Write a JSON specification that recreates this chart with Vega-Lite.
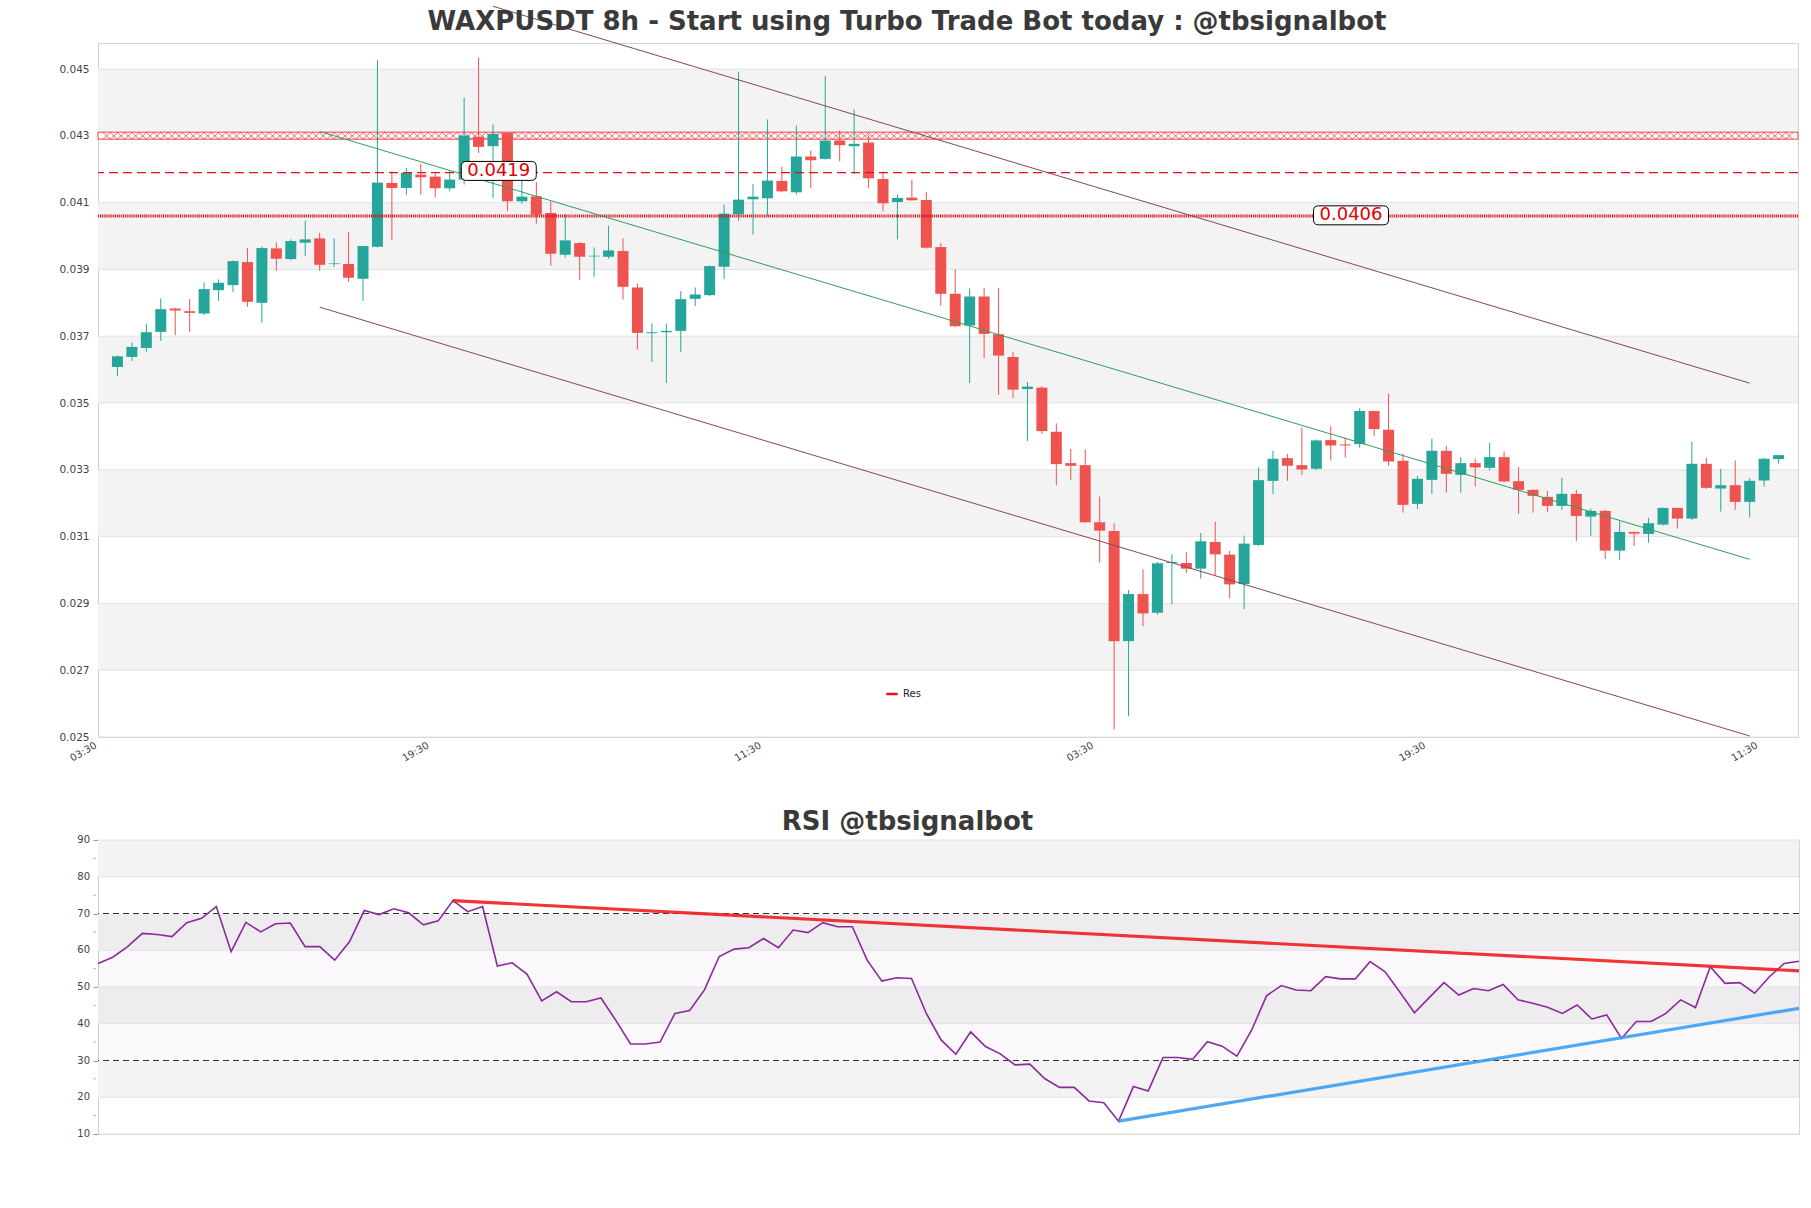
{
  "$schema": "https://vega.github.io/schema/vega-lite/v6.json",
  "background": "white",
  "padding": {"left": 58, "top": 3, "right": 10, "bottom": 10},
  "spacing": 44,
  "config": {
    "font": "DejaVu Sans",
    "view": {"stroke": "#d4d4d4", "strokeWidth": 1},
    "axis": {"labelFont": "DejaVu Sans", "labelColor": "#444444", "domainColor": "#cfcfcf", "labelOverlap": false, "labelSeparation": 0},
    "title": {"font": "DejaVu Sans"}
  },
  "datasets": {
    "candles": [
      {"j":0,"o":0.03608,"h":0.03642,"l":0.0358,"c":0.0364},
      {"j":1,"o":0.03638,"h":0.03681,"l":0.03626,"c":0.03668},
      {"j":2,"o":0.03665,"h":0.03738,"l":0.03653,"c":0.03712},
      {"j":3,"o":0.03713,"h":0.03813,"l":0.03686,"c":0.03781},
      {"j":4,"o":0.03783,"h":0.03785,"l":0.03703,"c":0.03777},
      {"j":5,"o":0.03775,"h":0.03811,"l":0.03713,"c":0.0377},
      {"j":6,"o":0.03768,"h":0.03861,"l":0.03763,"c":0.03841},
      {"j":7,"o":0.03838,"h":0.0387,"l":0.03806,"c":0.0386},
      {"j":8,"o":0.03853,"h":0.03927,"l":0.03833,"c":0.03925},
      {"j":9,"o":0.03922,"h":0.03964,"l":0.03788,"c":0.03803},
      {"j":10,"o":0.038,"h":0.03968,"l":0.0374,"c":0.03964},
      {"j":11,"o":0.03963,"h":0.03981,"l":0.03896,"c":0.03932},
      {"j":12,"o":0.03931,"h":0.0399,"l":0.03928,"c":0.03985},
      {"j":13,"o":0.0398,"h":0.04046,"l":0.03941,"c":0.0399},
      {"j":14,"o":0.03993,"h":0.0401,"l":0.03896,"c":0.03914},
      {"j":15,"o":0.03916,"h":0.03993,"l":0.03908,"c":0.03918},
      {"j":16,"o":0.03916,"h":0.04012,"l":0.03863,"c":0.03875},
      {"j":17,"o":0.03872,"h":0.0397,"l":0.03806,"c":0.0397},
      {"j":18,"o":0.03968,"h":0.04526,"l":0.03966,"c":0.0416},
      {"j":19,"o":0.04159,"h":0.04194,"l":0.03988,"c":0.04144},
      {"j":20,"o":0.04144,"h":0.04204,"l":0.04124,"c":0.04189},
      {"j":21,"o":0.04184,"h":0.04216,"l":0.04124,"c":0.04176},
      {"j":22,"o":0.04178,"h":0.04187,"l":0.04116,"c":0.04143},
      {"j":23,"o":0.04143,"h":0.04194,"l":0.04134,"c":0.04169},
      {"j":24,"o":0.04169,"h":0.04414,"l":0.04154,"c":0.04301},
      {"j":25,"o":0.04297,"h":0.04534,"l":0.04249,"c":0.04267},
      {"j":26,"o":0.04269,"h":0.04334,"l":0.04114,"c":0.04306},
      {"j":27,"o":0.04309,"h":0.0431,"l":0.04074,"c":0.04104},
      {"j":28,"o":0.04104,"h":0.04169,"l":0.04097,"c":0.04118},
      {"j":29,"o":0.04119,"h":0.04162,"l":0.04037,"c":0.04064},
      {"j":30,"o":0.04069,"h":0.04104,"l":0.03911,"c":0.03947},
      {"j":31,"o":0.03944,"h":0.04066,"l":0.03936,"c":0.03987},
      {"j":32,"o":0.03979,"h":0.03982,"l":0.03869,"c":0.03938},
      {"j":33,"o":0.03939,"h":0.03966,"l":0.03878,"c":0.03941},
      {"j":34,"o":0.03938,"h":0.04031,"l":0.03932,"c":0.03957},
      {"j":35,"o":0.03955,"h":0.03993,"l":0.0381,"c":0.03848},
      {"j":36,"o":0.03846,"h":0.03858,"l":0.0366,"c":0.0371},
      {"j":37,"o":0.03709,"h":0.03738,"l":0.03623,"c":0.03712},
      {"j":38,"o":0.03712,"h":0.03738,"l":0.0356,"c":0.03716},
      {"j":39,"o":0.03716,"h":0.03835,"l":0.03653,"c":0.03811},
      {"j":40,"o":0.03812,"h":0.03846,"l":0.0379,"c":0.03825},
      {"j":41,"o":0.03823,"h":0.03912,"l":0.0382,"c":0.0391},
      {"j":42,"o":0.03908,"h":0.04094,"l":0.03871,"c":0.04067},
      {"j":43,"o":0.04065,"h":0.04492,"l":0.04046,"c":0.04109},
      {"j":44,"o":0.0411,"h":0.04156,"l":0.04004,"c":0.04118},
      {"j":45,"o":0.04113,"h":0.04349,"l":0.04061,"c":0.04166},
      {"j":46,"o":0.04165,"h":0.04207,"l":0.04132,"c":0.04134},
      {"j":47,"o":0.04131,"h":0.04331,"l":0.04124,"c":0.04238},
      {"j":48,"o":0.04238,"h":0.04256,"l":0.04143,"c":0.04227},
      {"j":49,"o":0.04231,"h":0.04479,"l":0.04229,"c":0.04286},
      {"j":50,"o":0.04286,"h":0.04316,"l":0.04224,"c":0.04272},
      {"j":51,"o":0.04269,"h":0.04379,"l":0.04186,"c":0.04276},
      {"j":52,"o":0.0428,"h":0.04304,"l":0.04144,"c":0.04173},
      {"j":53,"o":0.04171,"h":0.04194,"l":0.04074,"c":0.04098},
      {"j":54,"o":0.04102,"h":0.04124,"l":0.0399,"c":0.04114},
      {"j":55,"o":0.04115,"h":0.04169,"l":0.04106,"c":0.04107},
      {"j":56,"o":0.04108,"h":0.04132,"l":0.03962,"c":0.03965},
      {"j":57,"o":0.03967,"h":0.03979,"l":0.03791,"c":0.03827},
      {"j":58,"o":0.03827,"h":0.03901,"l":0.03728,"c":0.0373},
      {"j":59,"o":0.03732,"h":0.03843,"l":0.0356,"c":0.03819},
      {"j":60,"o":0.03819,"h":0.03845,"l":0.03634,"c":0.03707},
      {"j":61,"o":0.03706,"h":0.03845,"l":0.03524,"c":0.03642},
      {"j":62,"o":0.03638,"h":0.03653,"l":0.03515,"c":0.0354},
      {"j":63,"o":0.03542,"h":0.03563,"l":0.03386,"c":0.03549},
      {"j":64,"o":0.03546,"h":0.03551,"l":0.03408,"c":0.03416},
      {"j":65,"o":0.03414,"h":0.03439,"l":0.03254,"c":0.03317},
      {"j":66,"o":0.0332,"h":0.03363,"l":0.0327,"c":0.03312},
      {"j":67,"o":0.03314,"h":0.03361,"l":0.03141,"c":0.03143},
      {"j":68,"o":0.03143,"h":0.0322,"l":0.03022,"c":0.03118},
      {"j":69,"o":0.03117,"h":0.0314,"l":0.02522,"c":0.02787},
      {"j":70,"o":0.02787,"h":0.0294,"l":0.02562,"c":0.02928},
      {"j":71,"o":0.02928,"h":0.03002,"l":0.02832,"c":0.0287},
      {"j":72,"o":0.02872,"h":0.03024,"l":0.02866,"c":0.0302},
      {"j":73,"o":0.03021,"h":0.03047,"l":0.02897,"c":0.03024},
      {"j":74,"o":0.03021,"h":0.03053,"l":0.02991,"c":0.03004},
      {"j":75,"o":0.03004,"h":0.03111,"l":0.02974,"c":0.03086},
      {"j":76,"o":0.03084,"h":0.03145,"l":0.02985,"c":0.03047},
      {"j":77,"o":0.03046,"h":0.03057,"l":0.02915,"c":0.02957},
      {"j":78,"o":0.02958,"h":0.03103,"l":0.02883,"c":0.03079},
      {"j":79,"o":0.03075,"h":0.03307,"l":0.03072,"c":0.03269},
      {"j":80,"o":0.03267,"h":0.03357,"l":0.03228,"c":0.03333},
      {"j":81,"o":0.03335,"h":0.03348,"l":0.03267,"c":0.03312},
      {"j":82,"o":0.03314,"h":0.03427,"l":0.03284,"c":0.03301},
      {"j":83,"o":0.03303,"h":0.03391,"l":0.03299,"c":0.03388},
      {"j":84,"o":0.03389,"h":0.03431,"l":0.03328,"c":0.03373},
      {"j":85,"o":0.03376,"h":0.03397,"l":0.03337,"c":0.03373},
      {"j":86,"o":0.03377,"h":0.03484,"l":0.03366,"c":0.03476},
      {"j":87,"o":0.03476,"h":0.03478,"l":0.034,"c":0.03422},
      {"j":88,"o":0.0342,"h":0.03528,"l":0.03312,"c":0.03325},
      {"j":89,"o":0.03327,"h":0.03348,"l":0.03172,"c":0.03195},
      {"j":90,"o":0.03198,"h":0.03282,"l":0.03183,"c":0.03273},
      {"j":91,"o":0.0327,"h":0.03393,"l":0.03228,"c":0.03357},
      {"j":92,"o":0.03357,"h":0.03372,"l":0.03232,"c":0.03288},
      {"j":93,"o":0.03285,"h":0.03338,"l":0.03232,"c":0.0332},
      {"j":94,"o":0.0332,"h":0.03333,"l":0.0325,"c":0.03307},
      {"j":95,"o":0.03306,"h":0.03381,"l":0.03298,"c":0.03338},
      {"j":96,"o":0.03338,"h":0.03355,"l":0.03262,"c":0.03265},
      {"j":97,"o":0.03266,"h":0.03308,"l":0.03168,"c":0.0324},
      {"j":98,"o":0.0324,"h":0.03242,"l":0.03172,"c":0.03222},
      {"j":99,"o":0.03219,"h":0.03237,"l":0.03174,"c":0.03192},
      {"j":100,"o":0.03192,"h":0.03276,"l":0.0318,"c":0.03228},
      {"j":101,"o":0.03228,"h":0.0324,"l":0.03087,"c":0.03162},
      {"j":102,"o":0.0316,"h":0.03184,"l":0.03102,"c":0.03177},
      {"j":103,"o":0.03177,"h":0.0318,"l":0.03033,"c":0.03058},
      {"j":104,"o":0.03058,"h":0.03146,"l":0.0303,"c":0.03114},
      {"j":105,"o":0.03114,"h":0.03115,"l":0.03072,"c":0.03109},
      {"j":106,"o":0.03108,"h":0.03156,"l":0.03082,"c":0.0314},
      {"j":107,"o":0.03136,"h":0.03187,"l":0.03133,"c":0.03186},
      {"j":108,"o":0.03186,"h":0.03187,"l":0.03124,"c":0.03154},
      {"j":109,"o":0.03154,"h":0.03384,"l":0.03149,"c":0.03318},
      {"j":110,"o":0.03318,"h":0.03336,"l":0.03243,"c":0.03246},
      {"j":111,"o":0.03244,"h":0.03303,"l":0.03175,"c":0.03254},
      {"j":112,"o":0.03254,"h":0.03328,"l":0.0318,"c":0.03204},
      {"j":113,"o":0.03204,"h":0.03275,"l":0.03157,"c":0.03267},
      {"j":114,"o":0.03268,"h":0.03336,"l":0.0325,"c":0.03333},
      {"j":115,"o":0.03332,"h":0.03345,"l":0.03319,"c":0.03344}
    ],
    "rsi": [
      {"k":0,"r":56.4},{"k":1,"r":58.1},{"k":2,"r":61.0},{"k":3,"r":64.6},{"k":4,"r":64.3},{"k":5,"r":63.7},{"k":6,"r":67.5},{"k":7,"r":68.7},{"k":8,"r":71.9},{"k":9,"r":59.6},
      {"k":10,"r":67.6},{"k":11,"r":65.0},{"k":12,"r":67.2},{"k":13,"r":67.4},{"k":14,"r":61.0},{"k":15,"r":61.0},{"k":16,"r":57.3},{"k":17,"r":62.3},{"k":18,"r":70.8},{"k":19,"r":69.7},
      {"k":20,"r":71.3},{"k":21,"r":70.2},{"k":22,"r":66.9},{"k":23,"r":68.0},{"k":24,"r":73.5},{"k":25,"r":70.5},{"k":26,"r":71.9},{"k":27,"r":55.7},{"k":28,"r":56.6},{"k":29,"r":53.5},
      {"k":30,"r":46.2},{"k":31,"r":48.7},{"k":32,"r":46.0},{"k":33,"r":46.0},{"k":34,"r":47.0},{"k":35,"r":41.0},{"k":36,"r":34.5},{"k":37,"r":34.5},{"k":38,"r":35.0},{"k":39,"r":42.8},
      {"k":40,"r":43.6},{"k":41,"r":49.2},{"k":42,"r":58.3},{"k":43,"r":60.3},{"k":44,"r":60.7},{"k":45,"r":63.2},{"k":46,"r":60.7},{"k":47,"r":65.5},{"k":48,"r":64.8},{"k":49,"r":67.5},
      {"k":50,"r":66.4},{"k":51,"r":66.4},{"k":52,"r":57.3},{"k":53,"r":51.6},{"k":54,"r":52.5},{"k":55,"r":52.3},{"k":56,"r":42.8},{"k":57,"r":35.6},{"k":58,"r":31.7},{"k":59,"r":37.8},
      {"k":60,"r":33.8},{"k":61,"r":31.8},{"k":62,"r":28.8},{"k":63,"r":29.0},{"k":64,"r":25.1},{"k":65,"r":22.7},{"k":66,"r":22.7},{"k":67,"r":19.0},{"k":68,"r":18.5},{"k":69,"r":13.5},
      {"k":70,"r":22.9},{"k":71,"r":21.7},{"k":72,"r":30.8},{"k":73,"r":30.8},{"k":74,"r":30.3},{"k":75,"r":35.1},{"k":76,"r":33.9},{"k":77,"r":31.2},{"k":78,"r":38.3},{"k":79,"r":47.6},
      {"k":80,"r":50.4},{"k":81,"r":49.2},{"k":82,"r":49.0},{"k":83,"r":52.8},{"k":84,"r":52.2},{"k":85,"r":52.2},{"k":86,"r":56.9},{"k":87,"r":54.2},{"k":88,"r":48.7},{"k":89,"r":43.0},
      {"k":90,"r":47.1},{"k":91,"r":51.2},{"k":92,"r":47.8},{"k":93,"r":49.6},{"k":94,"r":49.0},{"k":95,"r":50.7},{"k":96,"r":46.5},{"k":97,"r":45.6},{"k":98,"r":44.5},{"k":99,"r":42.8},
      {"k":100,"r":45.1},{"k":101,"r":41.3},{"k":102,"r":42.4},{"k":103,"r":36.0},{"k":104,"r":40.6},{"k":105,"r":40.6},{"k":106,"r":42.8},{"k":107,"r":46.5},{"k":108,"r":44.4},{"k":109,"r":55.5},
      {"k":110,"r":51.0},{"k":111,"r":51.2},{"k":112,"r":48.3},{"k":113,"r":52.8},{"k":114,"r":56.4},{"k":115,"r":57.0}
    ],
    "hatch": [
      {"x":-0.5},{"x":0.5},{"x":1.5},{"x":2.5},{"x":3.5},{"x":4.5},{"x":5.5},{"x":6.5},{"x":7.5},{"x":8.5},{"x":9.5},{"x":10.5},{"x":11.5},{"x":12.5},{"x":13.5},{"x":14.5},{"x":15.5},{"x":16.5},{"x":17.5},{"x":18.5},{"x":19.5},
      {"x":20.5},{"x":21.5},{"x":22.5},{"x":23.5},{"x":24.5},{"x":25.5},{"x":26.5},{"x":27.5},{"x":28.5},{"x":29.5},{"x":30.5},{"x":31.5},{"x":32.5},{"x":33.5},{"x":34.5},{"x":35.5},{"x":36.5},{"x":37.5},{"x":38.5},{"x":39.5},
      {"x":40.5},{"x":41.5},{"x":42.5},{"x":43.5},{"x":44.5},{"x":45.5},{"x":46.5},{"x":47.5},{"x":48.5},{"x":49.5},{"x":50.5},{"x":51.5},{"x":52.5},{"x":53.5},{"x":54.5},{"x":55.5},{"x":56.5},{"x":57.5},{"x":58.5},{"x":59.5},
      {"x":60.5},{"x":61.5},{"x":62.5},{"x":63.5},{"x":64.5},{"x":65.5},{"x":66.5},{"x":67.5},{"x":68.5},{"x":69.5},{"x":70.5},{"x":71.5},{"x":72.5},{"x":73.5},{"x":74.5},{"x":75.5},{"x":76.5},{"x":77.5},{"x":78.5},{"x":79.5},
      {"x":80.5},{"x":81.5},{"x":82.5},{"x":83.5},{"x":84.5},{"x":85.5},{"x":86.5},{"x":87.5},{"x":88.5},{"x":89.5},{"x":90.5},{"x":91.5},{"x":92.5},{"x":93.5},{"x":94.5},{"x":95.5},{"x":96.5},{"x":97.5},{"x":98.5},{"x":99.5},
      {"x":100.5},{"x":101.5},{"x":102.5},{"x":103.5},{"x":104.5},{"x":105.5},{"x":106.5},{"x":107.5},{"x":108.5},{"x":109.5},{"x":110.5},{"x":111.5},{"x":112.5},{"x":113.5},{"x":114.5},{"x":115.5}
    ]
  },
  "vconcat": [
    {
      "width": 1700,
      "height": 694,
      "title": {"text": "WAXPUSDT 8h - Start using Turbo Trade Bot today : @tbsignalbot", "fontSize": 26, "fontWeight": "bold", "color": "#3a3a3a", "anchor": "middle", "dx": -41, "offset": -31},
      "layer": [
        {
          "data": {"values": [{"lo":0.027,"hi":0.029},{"lo":0.031,"hi":0.033},{"lo":0.035,"hi":0.037},{"lo":0.039,"hi":0.041},{"lo":0.043,"hi":0.045}]},
          "mark": {"type": "rect", "color": "#f3f3f3"},
          "encoding": {
            "y": {"field": "lo", "type": "quantitative", "title": null,
                  "scale": {"domain": [0.025, 0.04578], "nice": false, "zero": false},
                  "axis": {"values": [0.025,0.027,0.029,0.031,0.033,0.035,0.037,0.039,0.041,0.043,0.045], "format": ".3f", "grid": false, "ticks": false, "tickSize": 0, "labelPadding": 9, "labelFontSize": 10.5, "labelOverlap": false, "title": null}},
            "y2": {"field": "hi"}
          }
        },
        {
          "data": {"values": [{"v":0.025},{"v":0.027},{"v":0.029},{"v":0.031},{"v":0.033},{"v":0.035},{"v":0.037},{"v":0.039},{"v":0.041},{"v":0.043},{"v":0.045}]},
          "mark": {"type": "rule", "color": "#e2e2e2", "strokeWidth": 1},
          "encoding": {"y": {"field": "v", "type": "quantitative", "title": null}}
        },
        {
          "data": {"values": [{"lo":0.0429,"hi":0.04311}]},
          "mark": {"type": "rect", "fill": "#fffafa", "stroke": "#e8141c", "strokeWidth": 0.8},
          "encoding": {"y": {"field": "lo", "type": "quantitative", "title": null}, "y2": {"field": "hi"}}
        },
        {
          "data": {"name": "hatch"},
          "mark": {"type": "point", "shape": "M-1,-0.45L0,0.45M-1,0.45L0,-0.45M0,-0.45L1,0.45M0,0.45L1,-0.45", "size": 211, "filled": false, "stroke": "#e8141c", "strokeWidth": 0.7, "opacity": 0.85},
          "encoding": {
            "x": {"field": "x", "type": "quantitative", "title": null},
            "y": {"datum": 0.043, "type": "quantitative"}
          }
        },
        {
          "data": {"name": "candles"},
          "mark": {"type": "rule", "strokeWidth": 1},
          "encoding": {
            "x": {"field": "j", "type": "quantitative", "title": null,
                  "scale": {"domain": [-1, 116], "nice": false, "zero": false},
                  "axis": {"values": [-1, 22, 45, 68, 91, 114], "labelExpr": "datum.value == -1 ? '03:30' : datum.value == 22 ? '19:30' : datum.value == 45 ? '11:30' : datum.value == 68 ? '03:30' : datum.value == 91 ? '19:30' : '11:30'", "labelAngle": -30, "labelAlign": "right", "labelBaseline": "top", "labelPadding": 3, "labelOffset": -10, "ticks": false, "tickSize": 0, "grid": false, "labelFontSize": 10, "labelOverlap": false, "title": null}},
            "y": {"field": "l", "type": "quantitative", "title": null},
            "y2": {"field": "h"},
            "color": {"condition": {"test": "datum.c >= datum.o", "value": "#26a69a"}, "value": "#ef5350"}
          }
        },
        {
          "data": {"name": "candles"},
          "mark": {"type": "bar", "size": 11},
          "encoding": {
            "x": {"field": "j", "type": "quantitative", "title": null},
            "y": {"field": "o", "type": "quantitative", "title": null},
            "y2": {"field": "c"},
            "color": {"condition": {"test": "datum.c >= datum.o", "value": "#26a69a"}, "value": "#ef5350"}
          }
        },
        {
          "data": {"values": [{"name": "Res", "p": 0.0406}]},
          "mark": {"type": "rule", "strokeWidth": 3, "strokeDash": [1.2, 0.9]},
          "encoding": {
            "y": {"field": "p", "type": "quantitative", "title": null},
            "color": {"field": "name", "type": "nominal", "scale": {"domain": ["Res"], "range": ["#e3121b"]},
                      "legend": {"orient": "none", "legendX": 787, "legendY": 644, "title": null, "symbolType": "stroke", "symbolStrokeWidth": 2.5, "symbolSize": 130, "labelFontSize": 10, "labelColor": "#222222", "padding": 0}}
          }
        },
        {
          "data": {"values": [{"p": 0.0419}]},
          "mark": {"type": "rule", "strokeWidth": 1.3, "strokeDash": [9, 5], "color": "#e3121b"},
          "encoding": {"y": {"field": "p", "type": "quantitative", "title": null}}
        },
        {
          "data": {"values": [
            {"g":"up","j":26,"p":0.04688},{"g":"up","j":113,"p":0.035595},
            {"g":"lo","j":14,"p":0.037871},{"g":"lo","j":113,"p":0.02503},
            {"g":"mid","j":14,"p":0.04313},{"g":"mid","j":113,"p":0.03032}
          ]},
          "mark": {"type": "line", "strokeWidth": 1},
          "encoding": {
            "x": {"field": "j", "type": "quantitative", "title": null},
            "y": {"field": "p", "type": "quantitative", "title": null},
            "detail": {"field": "g"},
            "color": {"condition": {"test": "datum.g === 'mid'", "value": "#2f9e63"}, "value": "#84465f"}
          }
        },
        {
          "data": {"values": [{"j":26.4,"p":0.04195,"t":"0.0419"},{"j":85.4,"p":0.04062,"t":"0.0406"}]},
          "mark": {"type": "point", "shape": "M-0.867,-0.253L0.867,-0.253Q1,-0.253 1,-0.12L1,0.12Q1,0.253 0.867,0.253L-0.867,0.253Q-1,0.253 -1,0.12L-1,-0.12Q-1,-0.253 -0.867,-0.253Z", "size": 5625, "filled": true, "fill": "white", "stroke": "black", "strokeWidth": 1, "opacity": 1},
          "encoding": {
            "x": {"field": "j", "type": "quantitative", "title": null},
            "y": {"field": "p", "type": "quantitative", "title": null}
          }
        },
        {
          "data": {"values": [{"j":26.4,"p":0.04195,"t":"0.0419"},{"j":85.4,"p":0.04062,"t":"0.0406"}]},
          "mark": {"type": "text", "fontSize": 18, "color": "#e00000", "baseline": "middle", "align": "center"},
          "encoding": {
            "x": {"field": "j", "type": "quantitative", "title": null},
            "y": {"field": "p", "type": "quantitative", "title": null},
            "text": {"field": "t"}
          }
        }
      ]
    },
    {
      "width": 1701,
      "height": 294,
      "title": {"text": "RSI @tbsignalbot", "fontSize": 26, "fontWeight": "bold", "color": "#3a3a3a", "anchor": "middle", "dx": -41, "offset": 0},
      "layer": [
        {
          "data": {"values": [{"lo":20,"hi":30},{"lo":40,"hi":50},{"lo":60,"hi":70},{"lo":80,"hi":90}]},
          "mark": {"type": "rect", "color": "#f3f3f3"},
          "encoding": {
            "y": {"field": "lo", "type": "quantitative", "title": null,
                  "scale": {"domain": [10, 90], "nice": false, "zero": false},
                  "axis": {"values": [10,20,30,40,50,60,70,80,90], "grid": false, "tickSize": 5, "tickColor": "#999999", "labels": false, "title": null}},
            "y2": {"field": "hi"}
          }
        },
        {
          "data": {"values": [{"lo":30,"hi":70}]},
          "mark": {"type": "rect", "color": "#7b2d8e", "opacity": 0.035},
          "encoding": {"y": {"field": "lo", "type": "quantitative", "title": null}, "y2": {"field": "hi"}}
        },
        {
          "data": {"values": [{"v":10},{"v":20},{"v":40},{"v":50},{"v":60},{"v":80},{"v":90}]},
          "mark": {"type": "rule", "color": "#e2e2e2", "strokeWidth": 1},
          "encoding": {"y": {"field": "v", "type": "quantitative", "title": null}}
        },
        {
          "data": {"values": [{"v":30},{"v":70}]},
          "mark": {"type": "rule", "color": "#333333", "strokeWidth": 1.1, "strokeDash": [6, 4]},
          "encoding": {"y": {"field": "v", "type": "quantitative", "title": null}}
        },
        {
          "data": {"values": [{"v":15},{"v":25},{"v":35},{"v":45},{"v":55},{"v":65},{"v":75},{"v":85}]},
          "mark": {"type": "tick", "orient": "horizontal", "size": 3, "thickness": 1, "color": "#999999", "xOffset": -3.5},
          "encoding": {
            "x": {"datum": 0, "type": "quantitative", "axis": null},
            "y": {"field": "v", "type": "quantitative", "title": null}
          }
        },
        {
          "data": {"values": [{"v":10},{"v":20},{"v":30},{"v":40},{"v":50},{"v":60},{"v":70},{"v":80},{"v":90}]},
          "mark": {"type": "text", "align": "right", "baseline": "middle", "fontSize": 10, "color": "#444444", "xOffset": -8},
          "encoding": {
            "x": {"datum": 0, "type": "quantitative", "axis": null},
            "y": {"field": "v", "type": "quantitative", "title": null},
            "text": {"field": "v", "type": "quantitative"}
          }
        },
        {
          "data": {"name": "rsi"},
          "mark": {"type": "line", "color": "#8b2a9b", "strokeWidth": 1.6},
          "encoding": {
            "x": {"field": "k", "type": "quantitative", "axis": null, "scale": {"domain": [0, 115], "nice": false, "zero": false}},
            "y": {"field": "r", "type": "quantitative", "title": null}
          }
        },
        {
          "data": {"values": [{"k":24,"v":73.5},{"k":115,"v":54.4}]},
          "mark": {"type": "line", "color": "#f01e1e", "strokeWidth": 3.2, "opacity": 0.9},
          "encoding": {
            "x": {"field": "k", "type": "quantitative", "axis": null},
            "y": {"field": "v", "type": "quantitative", "title": null}
          }
        },
        {
          "data": {"values": [{"k":69,"v":13.5},{"k":115,"v":44.2}]},
          "mark": {"type": "line", "color": "#3d9ef0", "strokeWidth": 3.2, "opacity": 0.9},
          "encoding": {
            "x": {"field": "k", "type": "quantitative", "axis": null},
            "y": {"field": "v", "type": "quantitative", "title": null}
          }
        }
      ]
    }
  ]
}
